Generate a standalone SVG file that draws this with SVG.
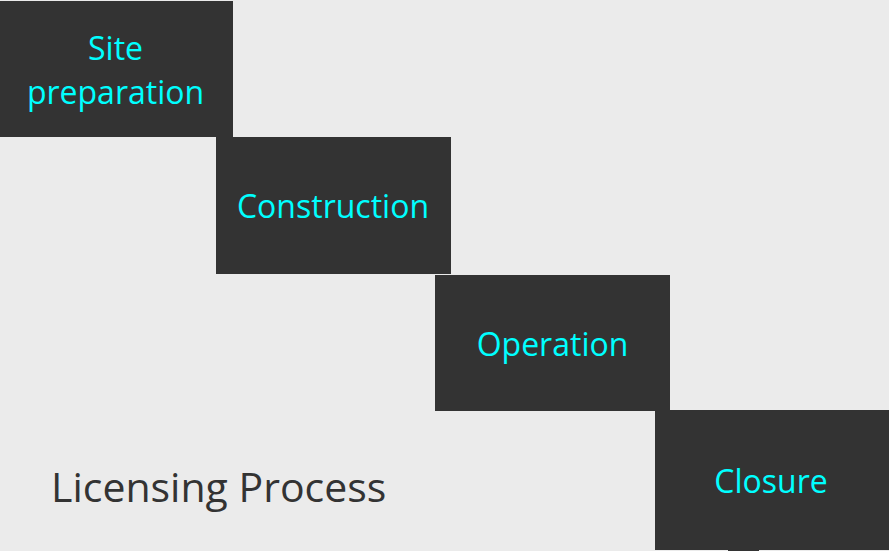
<svg xmlns="http://www.w3.org/2000/svg" width="889" height="551" viewBox="0 0 889 551">
<style>
.box{fill:#333333}
.lbl{fill:#00FFFF;font-family:"Open Sans","Liberation Sans",sans-serif;font-size:32px;text-anchor:middle}
.title{fill:#333333;font-family:"Open Sans","Liberation Sans",sans-serif;font-size:41px}
</style>
<rect x="0" y="0" width="889" height="551" fill="#EBEBEB"/>
<g id="connectors"></g>
<g id="site-preparation">
<rect class="box" x="0" y="1" width="233" height="136"/>
<text class="lbl" x="115.5" y="60">Site</text>
<text class="lbl" x="115.5" y="104">preparation</text>
</g>
<g id="construction">
<rect class="box" x="216" y="137" width="235" height="137"/>
<text class="lbl" x="333" y="218">Construction</text>
</g>
<g id="operation">
<rect class="box" x="435" y="275" width="235" height="136"/>
<text class="lbl" x="552.5" y="356">Operation</text>
</g>
<g id="closure">
<rect class="box" x="655" y="410" width="234" height="140"/>
<rect class="box" x="728" y="550" width="31" height="1"/>
<text class="lbl" x="771" y="493">Closure</text>
</g>
<g id="title">
<text class="title" x="51" y="502">Licensing Process</text>
</g>
</svg>
